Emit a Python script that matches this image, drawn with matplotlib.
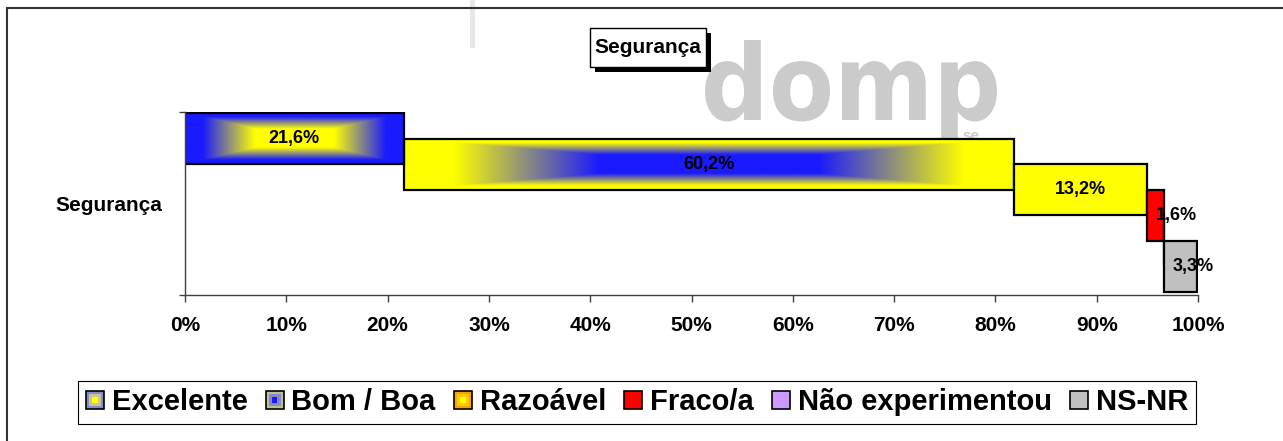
import numpy as np
import matplotlib
matplotlib.use('Agg')
import matplotlib.pyplot as plt
from matplotlib.patches import Rectangle, PathPatch
from matplotlib.legend_handler import HandlerBase
from matplotlib.colors import LinearSegmentedColormap
from matplotlib.textpath import TextPath
from matplotlib.font_manager import FontProperties
from matplotlib.transforms import Affine2D
from matplotlib.lines import Line2D

plt.rcParams['font.family'] = ['Liberation Sans', 'DejaVu Sans']
plt.rcParams['font.weight'] = 'bold'

# Survey answers for one item (percent of respondents)
category = 'Segurança'
series = ['Excelente', 'Bom / Boa', 'Razoável', 'Fraco/a', 'Não experimentou', 'NS-NR']
values = [21.6, 60.2, 13.2, 1.6, 0.0, 3.3]
value_labels = ['21,6%', '60,2%', '13,2%', '1,6%', '', '3,3%']
x_ticks = [0, 10, 20, 30, 40, 50, 60, 70, 80, 90, 100]

# Figure size in pixels
W, H = 1283, 441
fig = plt.figure(figsize=(W / 100, H / 100), dpi=100)


def fx(x):
    return x / W


def fy(y):
    # pixel rows are counted from the top
    return 1 - y / H


def fig_rect(x0, y0, x1, y1, **kw):
    r = Rectangle((fx(x0), fy(y1)), fx(x1) - fx(x0), fy(y0) - fy(y1),
                  transform=fig.transFigure, **kw)
    fig.add_artist(r)
    return r


ax = fig.add_axes([fx(185), fy(295), fx(1198) - fx(185), fy(112) - fy(295)])
ax.patch.set_visible(False)

blue = '#1a1aff'
yellow = '#ffff00'
grad_cmap = LinearSegmentedColormap.from_list('yel_blue', [yellow, blue])


def box_gradient(yellow_center):
    # rectangular "from centre" fill: centre colour held, then a ramp to the edge colour
    u = np.linspace(-1, 1, 400)
    v = np.linspace(-1, 1, 80)
    U, V = np.meshgrid(u, v)
    t = np.maximum(np.abs(U), np.abs(V))
    s = np.clip((t - 0.36) / 0.48, 0, 1)
    return s if yellow_center else 1 - s


fills = [('grad', True), ('grad', False), '#ffff00', '#ff0000', '#cc99ff', '#c0c0c0']
label_shift = [0, 0, 0, 15, 0, 9]

bar_h = 2.0
lefts = np.concatenate([[0], np.cumsum(values)[:-1]])
for i, (val, left, fill) in enumerate(zip(values, lefts, fills)):
    if isinstance(fill, tuple):
        ax.imshow(box_gradient(fill[1]), cmap=grad_cmap, vmin=0, vmax=1,
                  extent=(left, left + val, i + bar_h / 2, i - bar_h / 2),
                  aspect='auto', interpolation='bilinear', zorder=1)
        face = 'none'
    else:
        face = fill
    ax.barh(i, val, left=left, height=bar_h, color=face, edgecolor='black',
            linewidth=1.6, zorder=2)
    if value_labels[i]:
        ax.annotate(value_labels[i], (left + val / 2, i), xytext=(label_shift[i], 0),
                    textcoords='offset points', ha='center', va='center',
                    fontsize=13, fontweight='bold', zorder=3)

ax.set_aspect('auto')
ax.set_xlim(0, 100)
ax.set_ylim(6.12, -1.04)

ax.set_xticks(x_ticks)
ax.set_xticklabels([f'{t}%' for t in x_ticks])
ax.tick_params(axis='x', length=5, width=1, pad=10, labelsize=15, color='#404040')

ax.set_yticks(list(ax.get_ylim()))
ax.set_yticklabels(['', ''])
ax.tick_params(axis='y', which='major', length=4.5, width=1, color='#404040')
ax.set_yticks([sum(ax.get_ylim()) / 2], minor=True)
ax.set_yticklabels([category], minor=True)
ax.tick_params(axis='y', which='minor', length=0, pad=16, labelsize=15)

for side in ['top', 'right']:
    ax.spines[side].set_visible(False)
for side in ['left', 'bottom']:
    ax.spines[side].set_color('#404040')
    ax.spines[side].set_linewidth(1)


# Legend keys drawn as nested squares
class NestedKey(HandlerBase):
    def __init__(self, colors):
        super().__init__()
        self.colors = colors

    def create_artists(self, legend, orig_handle, xdescent, ydescent,
                       width, height, fontsize, trans):
        side = min(width, height)
        x0 = -xdescent + (width - side) / 2
        y0 = -ydescent + (height - side) / 2
        out = []
        for k, c in enumerate(self.colors):
            inset = side * 0.17 * k
            out.append(Rectangle((x0 + inset, y0 + inset), side - 2 * inset, side - 2 * inset,
                                 facecolor=c, edgecolor='black' if k == 0 else 'none',
                                 linewidth=1.2 if k == 0 else 0, transform=trans))
        return out


key_colors = [
    ['#8a8ac8', '#c8c896', '#ffff00'],
    ['#c0c08e', '#8888cc', '#1a1aff'],
    ['#ffa000', '#ffcc00', '#ffff00'],
    ['#ff0000'],
    ['#cc99ff'],
    ['#c0c0c0'],
]
handles = [Rectangle((0, 0), 1, 1) for _ in series]
leg = fig.legend(handles, series,
                 handler_map={h: NestedKey(c) for h, c in zip(handles, key_colors)},
                 loc='center', bbox_to_anchor=(fx(637), fy(402.5)), ncol=6,
                 prop={'size': 21, 'weight': 'bold'}, handlelength=0.62, handleheight=0.62,
                 handletextpad=0.27, columnspacing=0.62, borderpad=0.25,
                 fancybox=False, edgecolor='black', framealpha=1)
leg.get_frame().set_linewidth(0.8)

# Title box with drop shadow
fig_rect(595, 33, 711, 72, facecolor='black', edgecolor='none', zorder=4)
fig_rect(590, 28, 706, 67, facecolor='white', edgecolor='black', linewidth=1, zorder=5)
fig.text(fx(648), fy(47.5), category, ha='center', va='center', fontsize=15,
         fontweight='bold', zorder=6)

# Outer chart frame
fig.add_artist(Line2D([fx(7), fx(7)], [0, fy(8)], color='#333333', lw=1.5,
                      transform=fig.transFigure))
fig.add_artist(Line2D([fx(7), 1], [fy(8), fy(8)], color='#333333', lw=1.5,
                      transform=fig.transFigure))
fig.add_artist(Line2D([fx(472), fx(472)], [1, fy(45)], color='#e6e6e6', lw=3.5,
                      transform=fig.transFigure, zorder=-2))

# Background logo
logo = TextPath((0, 0), 'domp', size=100, prop=FontProperties(family='DejaVu Sans', weight='bold'))
bb = logo.get_extents()
sx = (997 - 705) / bb.width
sy = (120 - 40) / bb.y1
logo_tf = (Affine2D().translate(-bb.x0, 0).scale(sx / W, sy / H)
           .translate(fx(705), fy(120)) + fig.transFigure)
fig.add_artist(PathPatch(logo, transform=logo_tf, facecolor='#cbcbcb', edgecolor='none',
                         zorder=-1))
fig.text(fx(962), fy(140), 'se', fontsize=11, color='#cbcbcb', fontweight='bold', zorder=-1)

fig.savefig('out.png', dpi=100)
